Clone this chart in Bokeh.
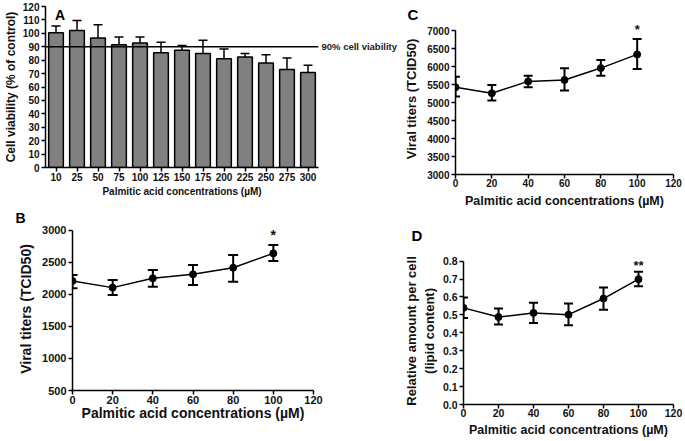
from bokeh.plotting import figure
from bokeh.models import (FactorRange, Range1d, ColumnDataSource, Whisker, TeeHead,
                          Span, Label, FixedTicker, NumeralTickFormatter, LinearAxis)
from bokeh.layouts import row, column
from bokeh.embed import file_html
from bokeh.resources import INLINE

# ---------------- data ----------------
# Panel A: cell viability (% of control)
conc_a = ["10", "25", "50", "75", "100", "125", "150", "175", "200", "225", "250", "275", "300"]
viability = [100.4, 102.2, 96.5, 91.5, 92.8, 85.6, 87.3, 84.9, 81.1, 82.4, 77.9, 73.0, 70.8]
viab_lo = [94.8, 89.5, 86.1, 84.9, 88.6, 76.9, 83.6, 75.0, 74.2, 80.4, 71.3, 63.8, 65.6]
viab_hi = [105.4, 109.6, 106.4, 97.2, 97.2, 93.3, 91.0, 94.8, 88.3, 84.9, 84.1, 81.6, 76.2]
threshold = 90

# Panels B-D: concentrations (µM)
conc = [0, 20, 40, 60, 80, 100]

titer_b = [2207, 2103, 2248, 2310, 2414, 2637]
titer_b_lo = [2092, 1989, 2118, 2144, 2196, 2518]
titer_b_hi = [2300, 2222, 2378, 2455, 2611, 2767]

titer_c = [5430, 5260, 5590, 5630, 5960, 6340]
titer_c_lo = [5167, 5056, 5426, 5333, 5750, 5935]
titer_c_hi = [5722, 5491, 5750, 5954, 6185, 6769]

lipid = [0.539, 0.488, 0.511, 0.501, 0.591, 0.699]
lipid_lo = [0.483, 0.446, 0.455, 0.442, 0.529, 0.660]
lipid_hi = [0.597, 0.535, 0.567, 0.563, 0.653, 0.740]

FONT = "Liberation Sans"
XTITLE = "Palmitic acid concentrations (\u00b5M)"
INK = "#111111"


def style(p, tick_px, xtitle_px, ytitle_px, ystandoff, xlab_standoff, xtitle_standoff):
    for ax in (p.xaxis[0], p.yaxis[0]):
        ax.axis_line_width = 1.5
        ax.axis_line_color = "black"
        ax.major_tick_line_width = 1.5
        ax.major_tick_line_color = "black"
        ax.major_tick_out = 4
        ax.major_tick_in = 0
        ax.minor_tick_out = 0
        ax.minor_tick_in = 0
        ax.major_label_text_font = FONT
        ax.major_label_text_font_style = "bold"
        ax.major_label_text_font_size = tick_px
        ax.major_label_text_color = INK
        ax.axis_label_text_font = FONT
        ax.axis_label_text_font_style = "bold"
        ax.axis_label_text_color = INK
    p.yaxis[0].major_label_standoff = 2
    p.xaxis[0].major_label_standoff = xlab_standoff
    p.xaxis[0].axis_label_text_font_size = xtitle_px
    p.yaxis[0].axis_label_text_font_size = ytitle_px
    p.xaxis[0].axis_label_standoff = xtitle_standoff
    p.yaxis[0].axis_label_standoff = ystandoff
    p.xgrid.visible = False
    p.ygrid.visible = False
    p.outline_line_color = None
    p.background_fill_color = "white"
    p.border_fill_color = "white"


def panel_title(p, txt, offset, standoff, size):
    p.title.text = txt
    p.title.align = "left"
    p.title.offset = offset
    p.title.standoff = standoff
    p.title.text_font = FONT
    p.title.text_font_style = "bold"
    p.title.text_font_size = size
    p.title.text_color = "black"
    p.title.vertical_align = "bottom"


def star(p, x, y, txt, dy, size):
    p.add_layout(Label(x=x, y=y, y_offset=dy, text=txt, text_font=FONT,
                       text_font_style="bold", text_font_size=size, text_align="center",
                       text_baseline="middle", text_color=INK))


def line_panel(p, ys, lo, hi, cap):
    src = ColumnDataSource(dict(x=conc, y=ys, lo=lo, hi=hi))
    p.line("x", "y", source=src, line_color="black", line_width=1.5)
    p.scatter("x", "y", source=src, size=7, color="black")
    p.add_layout(Whisker(source=src, base="x", upper="hi", lower="lo",
                         line_color="black", line_width=2,
                         upper_head=TeeHead(size=cap, line_width=2, line_color="black"),
                         lower_head=TeeHead(size=cap, line_width=2, line_color="black")))
    p.xaxis[0].ticker = FixedTicker(ticks=[0, 20, 40, 60, 80, 100, 120])


common = dict(output_backend="svg", toolbar_location=None, frame_align=False,
              x_axis_label=XTITLE)

# ---------------- Panel A ----------------
pa = figure(width=400, height=205, x_range=FactorRange(factors=conc_a, range_padding=0),
            y_range=Range1d(0, 120),
            min_border_left=41, min_border_right=82, min_border_top=6, min_border_bottom=38,
            y_axis_label="Cell viability (% of control)", **common)
src_a = ColumnDataSource(dict(x=conc_a, top=viability, lo=viab_lo, hi=viab_hi))
pa.vbar(x="x", top="top", width=0.7, source=src_a, fill_color="#808080",
        line_color="black", line_width=1.5)
pa.add_layout(Whisker(source=src_a, base="x", upper="hi", lower="lo",
                      line_color="black", line_width=1.5,
                      upper_head=TeeHead(size=9, line_width=1.5, line_color="black"),
                      lower_head=TeeHead(size=9, line_width=1.5, line_color="black")))
pa.add_layout(Span(location=threshold, dimension="width", line_color="black", line_width=1.5))
pa.yaxis[0].ticker = FixedTicker(ticks=list(range(0, 121, 10)))
style(pa, "10px", "10px", "12px", 2, 1, 2)
thr_axis = LinearAxis(ticker=FixedTicker(ticks=[threshold]),
                      major_label_overrides={threshold: "90% cell viability"},
                      axis_line_color=None, major_tick_line_color=None,
                      major_tick_out=0, major_tick_in=0, minor_tick_out=0, minor_tick_in=0,
                      major_label_standoff=3, major_label_text_font=FONT,
                      major_label_text_font_style="bold", major_label_text_font_size="9.5px",
                      major_label_text_color="#222222")
pa.add_layout(thr_axis, "right")
pa.add_layout(Label(x=0.45, y=120, text="A", text_font=FONT, text_font_style="bold",
                    text_font_size="14px", text_align="left", text_baseline="top",
                    text_color="black"))

# ---------------- Panel B ----------------
pb = figure(width=400, height=236, x_range=Range1d(0, 120), y_range=Range1d(500, 3040),
            min_border_left=72, min_border_right=87, min_border_top=22, min_border_bottom=51,
            y_axis_label="Viral titers (TCID50)", **common)
line_panel(pb, titer_b, titer_b_lo, titer_b_hi, 10)
pb.yaxis[0].ticker = FixedTicker(ticks=[500, 1000, 1500, 2000, 2500, 3000])
pb.yaxis[0].bounds = (500, 3000)
style(pb, "11px", "14px", "14px", 5, 1, -2)
star(pb, conc[-1], titer_b_hi[-1], "*", 10, "14px")
panel_title(pb, "B", -57, 3, "14px")

# ---------------- Panel C ----------------
pc = figure(width=285, height=210, x_range=Range1d(0, 120), y_range=Range1d(3000, 7200),
            min_border_left=55, min_border_right=12, min_border_top=23, min_border_bottom=36,
            y_axis_label="Viral titers (TCID50)", **common)
line_panel(pc, titer_c, titer_c_lo, titer_c_hi, 9)
pc.yaxis[0].ticker = FixedTicker(ticks=list(range(3000, 7001, 500)))
pc.yaxis[0].bounds = (3000, 7000)
style(pc, "10px", "12.5px", "13px", 5, 0, 4)
star(pc, conc[-1], titer_c_hi[-1], "*", 9, "13px")
panel_title(pc, "C", -48, 2, "15px")

# ---------------- Panel D ----------------
pd_ = figure(width=285, height=231, x_range=Range1d(0, 120), y_range=Range1d(0, 0.82),
             min_border_left=59, min_border_right=12, min_border_top=47, min_border_bottom=37,
             y_axis_label="Relative amount per cell\n(lipid content)", **common)
line_panel(pd_, lipid, lipid_lo, lipid_hi, 9)
pd_.yaxis[0].ticker = FixedTicker(ticks=[0, 0.1, 0.2, 0.3, 0.4, 0.5, 0.6, 0.7, 0.8])
pd_.yaxis[0].formatter = NumeralTickFormatter(format="0.0")
pd_.yaxis[0].bounds = (0, 0.8)
style(pd_, "10.5px", "12.5px", "13px", 3, 0, 3)
star(pd_, conc[-1], lipid_hi[-1], "**", 6, "13px")
panel_title(pd_, "D", -52, 27, "15px")

layout = row(column(pa, pb), column(pc, pd_))
open("out.html", "w").write(file_html(layout, INLINE))
